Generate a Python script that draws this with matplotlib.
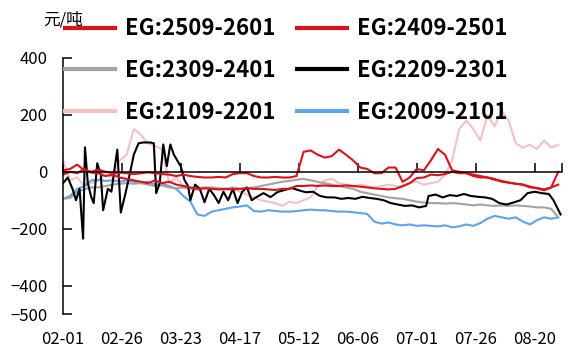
import matplotlib
matplotlib.use("Agg")
import matplotlib.pyplot as plt
from matplotlib.lines import Line2D
import numpy as np

plt.rcParams['font.family'] = ['Noto Sans CJK SC', 'DejaVu Sans']

# days since 02-01, shared 3-day grid for most series
days = np.arange(0, 211, 3)

eg2509 = [5, 10, 25, 5, 0, 8, 0, -5, -3, -5, -8, -5, -2, -5, -8, -10, -15, -10,
          -15, -18, -20, -20, -18, -20, -8, -5, -5, -15, -20, -20, -18, -20, -20, -15,
          70, 75, 60, 50, 55, 78, 60, 40, 15, 10, -5, -5, 15, 15, -35, -20,
          10, 5, 40, 80, 60, 5, 0, -5, -15, -20, -20, -25, -35, -38, -42, -45,
          -55, -57, -62, -55, 0]
eg2409 = [-10, 0, -5, 10, -3, -5, -15, -10, -20, -25, -30, -35, -40, -30, -40, -35,
          -45, -50, -55, -60, -58, -60, -62, -60, -62, -60, -58, -60, -60, -62, -64,
          -60, -60, -50, -50, -48, -50, -48, -50, -50, -48, -50, -52, -55, -58, -60,
          -62, -60, -50, -40, -22, -20, -10, -12, -8, 0, -5, -5, -10, -15, -20, -28,
          -32, -38, -42, -45, -52, -58, -65, -55, -45]
eg2309 = [-95, -92, -70, -62, -55, -55, -50, -45, -42, -40, -42, -40, -45, -50, -48,
          -55, -58, -55, -60, -58, -55, -55, -58, -60, -55, -60, -58, -55, -50, -45,
          -40, -35, -32, -28, -25, -30, -35, -40, -45, -50, -55, -60, -70, -75, -80,
          -85, -90, -93, -95, -100, -105, -108, -110, -110, -112, -110, -112, -115,
          -118, -115, -118, -120, -118, -120, -118, -120, -122, -125, -125, -130, -160]
eg2109 = [40, -30, -20, -50, -40, -30, -10, -20, 40, 60, 150, 130, 100, 90, 80, -40,
          -20, -50, -60, -65, -60, -55, -60, -65, -60, -70, -80, -90, -100, -105, -110,
          -120, -105, -110, -100, -90, -50, -30, -25, -40, -45, -50, -45, -50, -55,
          -50, -45, -50, -55, -40, -35, -45, -40, -35, -10, 40, 150, 180, 150, 110,
          200, 160, 215, 180, 100, 85, 95, 80, 110, 85, 95]
eg2009 = [-95, -85, -60, -50, -30, -28, -32, -30, -35, -30, -35, -38, -35, -45, -42,
          -50, -60, -85, -105, -150, -155, -140, -135, -130, -125, -122, -118, -138,
          -140, -135, -138, -140, -140, -138, -135, -133, -135, -135, -138, -140, -140,
          -142, -145, -148, -175, -182, -178, -185, -188, -185, -190, -188, -190, -192,
          -188, -195, -192, -185, -190, -180, -165, -155, -160, -165, -160, -175, -185,
          -170, -160, -165, -160]

# black line is much spikier early on, so it gets its own day list
days_2209 = [0, 2, 4, 5.5, 7, 8.5, 9.3, 10.5, 12, 13, 14.5, 16, 17, 19, 20.5, 22, 23,
             24.5, 26.5, 28.5, 30, 32, 34, 37, 38.5, 39.5, 41, 42.5, 44, 45.5, 47, 50,
             51.5, 53, 54, 56, 58, 60, 62, 64, 66, 68, 70, 72, 74, 76, 78, 80, 82, 85,
             88, 91, 94, 97, 100, 103, 106, 109, 112, 115, 118, 121, 124, 127, 130, 133,
             136, 139, 142, 145, 148, 151, 154, 155, 158, 161, 164, 167, 170, 173, 176,
             179, 182, 185, 188, 191, 194, 197, 200, 203, 206, 208, 211]
eg2209 = [-40, -20, -60, -100, -60, -235, 86, -40, -90, -110, 30, -10, -135, -60, -70,
          20, 78, -143, -75, 0, 60, 100, 103, 103, 100, -75, -40, 96, 20, 96, 60, 18,
          -29, -50, -100, -45, -60, -107, -60, -82, -110, -70, -100, -60, -110, -70,
          -55, -100, -89, -75, -89, -71, -64, -57, -65, -72, -70, -85, -90, -90, -95,
          -92, -95, -88, -92, -95, -100, -110, -115, -120, -118, -125, -120, -85, -80,
          -90, -82, -85, -78, -85, -88, -90, -95, -110, -115, -108, -100, -75, -70, -75,
          -78, -100, -150]

tick_days = np.arange(0, 201, 25)
tick_labels = ['02-01', '02-26', '03-23', '04-17', '05-12', '06-06', '07-01', '07-26', '08-20']
y_ticks = [-500, -400, -200, 0, 200, 400]

RED = '#e0101a'
series = [  # (label, x, y, color) in drawing order
    ('EG:2109-2201', days, eg2109, '#f6c0c2'),
    ('EG:2009-2101', days, eg2009, '#5ba4ee'),
    ('EG:2309-2401', days, eg2309, '#a3a3a3'),
    ('EG:2209-2301', days_2209, eg2209, '#000000'),
    ('EG:2409-2501', days, eg2409, RED),
    ('EG:2509-2601', days, eg2509, RED),
]

fig = plt.figure(figsize=(5.68, 3.49), dpi=100)
ax = fig.add_axes([0.111, 0.100, 0.878, 0.734])
handles = {}
for name, x, y, c in series:
    ax.plot(x, y, color=c, lw=1.5)
    handles[name] = Line2D([], [], color=c, lw=3)

ax.set_xlim(0, 211.5)
ax.set_ylim(-500, 400)
ax.set_yticks(y_ticks)
for s in ('top', 'right'):
    ax.spines[s].set_visible(False)
ax.spines['bottom'].set_position(('data', 0))
ax.spines['bottom'].set_linewidth(1.1)
ax.spines['left'].set_linewidth(1.1)
ax.set_xticks(tick_days)
ax.set_xticks([211.5], minor=True)
ax.tick_params(axis='x', which='both', direction='in', length=6.5, width=1.1, labelbottom=False)
ax.tick_params(axis='y', direction='in', length=6.5, width=1.1, pad=11, labelsize=12)

# labels sit at the bottom while the tick marks ride on the zero line
sec = ax.secondary_xaxis('bottom')
sec.set_xticks(tick_days, labels=tick_labels)
sec.tick_params(length=0, pad=12, labelsize=12)
sec.spines['bottom'].set_visible(False)

fig.text(0.111, 0.943, '元/吨', ha='center', va='center', fontsize=12)

order = ['EG:2509-2601', 'EG:2309-2401', 'EG:2109-2201',
         'EG:2409-2501', 'EG:2209-2301', 'EG:2009-2101']
fig.legend([handles[k] for k in order], order, ncol=2, loc='upper left',
           bbox_to_anchor=(0.094, 0.982), frameon=False,
           prop={'size': 16, 'weight': 'bold'}, handlelength=2.25,
           handletextpad=0.45, columnspacing=1.0, labelspacing=0.84, borderpad=0)

fig.savefig('out.png', dpi=100)
